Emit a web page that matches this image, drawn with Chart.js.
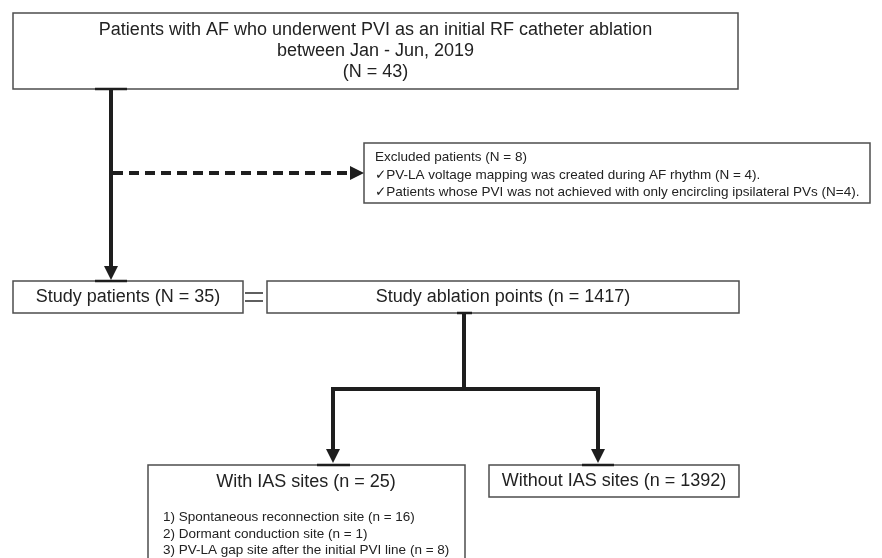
<!DOCTYPE html>
<html>
<head>
<meta charset="utf-8">
<script src="https://cdn.jsdelivr.net/npm/chart.js@4/dist/chart.umd.min.js"></script>
<style>
html,body{margin:0;padding:0;background:#fff;}
#c{display:block;}
</style>
</head>
<body>
<canvas id="c" width="882" height="558"></canvas>
<script>
// ---- data (counts and texts) ----
const totalPatients = 43;
const excludedTotal = 8;
const excludedCounts = [4, 4];
const studyPatients = 35;
const ablationPoints = 1417;
const withIAS = 25;
const withoutIAS = 1392;
const iasCounts = [16, 1, 8];
const periodLabel = "between Jan - Jun, 2019";
const iasLabels = ["Spontaneous reconnection site", "Dormant conduction site", "PV-LA gap site after the initial PVI line"];
const excludedReasons = ["PV-LA voltage mapping was created during AF rhythm", "Patients whose PVI was not achieved with only encircling ipsilateral PVs"];

const topLines = ["Patients with AF who underwent PVI as an initial RF catheter ablation", periodLabel, "(N = " + totalPatients + ")"];
const excludedLines = [
  "Excluded patients (N = " + excludedTotal + ")",
  "\u2713" + excludedReasons[0] + " (N = " + excludedCounts[0] + ").",
  "\u2713" + excludedReasons[1] + " (N=" + excludedCounts[1] + ")."
];
const studyText = "Study patients (N = " + studyPatients + ")";
const ablText = "Study ablation points (n = " + ablationPoints + ")";
const withText = "With IAS sites (n = " + withIAS + ")";
const withoutText = "Without IAS sites (n = " + withoutIAS + ")";
const iasLines = iasLabels.map((l, i) => (i + 1) + ") " + l + " (n = " + iasCounts[i] + ")");

// ---- layout (positions in the hidden scale units) ----
const L = {
  top:     {x0: 13,  y0: 13,  x1: 738, y1: 89},
  excl:    {x0: 364, y0: 143, x1: 870, y1: 203},
  study:   {x0: 13,  y0: 281, x1: 243, y1: 313},
  abl:     {x0: 267, y0: 281, x1: 739, y1: 313},
  withB:   {x0: 148, y0: 465, x1: 465, y1: 575},
  without: {x0: 489, y0: 465, x1: 739, y1: 497}
};

const BIG = '18px "Liberation Sans", Arial, sans-serif';
const SMALL = '13.5px "Liberation Sans", Arial, "DejaVu Sans", sans-serif';

const flowPlugin = {
  id: 'flow',
  beforeDraw(chart) {
    const ctx = chart.ctx;
    ctx.save();
    ctx.fillStyle = '#ffffff';
    ctx.fillRect(0, 0, chart.width, chart.height);
    ctx.restore();
  },
  afterDraw(chart) {
    const ctx = chart.ctx;
    const xs = chart.scales.x, ys = chart.scales.y;
    const X = v => xs.getPixelForValue(v);
    const Y = v => ys.getPixelForValue(v);

    ctx.save();
    // boxes
    ctx.strokeStyle = '#4d4d4d';
    ctx.lineWidth = 1.5;
    Object.values(L).forEach(b => {
      ctx.strokeRect(X(b.x0), Y(b.y0), X(b.x1) - X(b.x0), Y(b.y1) - Y(b.y0));
    });

    // connectors
    const dark = '#1e1e1e';
    ctx.strokeStyle = dark;
    ctx.fillStyle = dark;
    ctx.lineWidth = 4;
    ctx.lineCap = 'butt';
    ctx.lineJoin = 'miter';

    function arrowDown(x, tipY) {
      ctx.beginPath();
      ctx.moveTo(X(x), Y(tipY));
      ctx.lineTo(X(x) - 7, Y(tipY) - 14);
      ctx.lineTo(X(x) + 7, Y(tipY) - 14);
      ctx.closePath();
      ctx.fill();
    }
    function arrowRight(tipX, y) {
      ctx.beginPath();
      ctx.moveTo(X(tipX), Y(y));
      ctx.lineTo(X(tipX) - 14, Y(y) - 7);
      ctx.lineTo(X(tipX) - 14, Y(y) + 7);
      ctx.closePath();
      ctx.fill();
    }

    // main vertical
    ctx.beginPath();
    ctx.moveTo(X(111), Y(89));
    ctx.lineTo(X(111), Y(268));
    ctx.stroke();
    arrowDown(111, 280);

    // dashed to excluded
    ctx.setLineDash([10, 6]);
    ctx.beginPath();
    ctx.moveTo(X(113), Y(173));
    ctx.lineTo(X(352), Y(173));
    ctx.stroke();
    ctx.setLineDash([]);
    arrowRight(364, 173);

    // split
    ctx.beginPath();
    ctx.moveTo(X(464), Y(313));
    ctx.lineTo(X(464), Y(389));
    ctx.stroke();
    ctx.beginPath();
    ctx.moveTo(X(333), Y(451));
    ctx.lineTo(X(333), Y(389));
    ctx.lineTo(X(598), Y(389));
    ctx.lineTo(X(598), Y(451));
    ctx.stroke();
    arrowDown(333, 463);
    arrowDown(598, 463);

    // dark ticks on box edges
    ctx.lineWidth = 2.5;
    [[95, 127, 89], [95, 127, 281], [457, 472, 313], [317, 350, 465], [582, 614, 465]].forEach(t => {
      ctx.beginPath();
      ctx.moveTo(X(t[0]), Y(t[2]));
      ctx.lineTo(X(t[1]), Y(t[2]));
      ctx.stroke();
    });

    // equals sign
    ctx.strokeStyle = '#4d4d4d';
    ctx.lineWidth = 1.8;
    [293, 301].forEach(yy => {
      ctx.beginPath();
      ctx.moveTo(X(245), Y(yy));
      ctx.lineTo(X(263), Y(yy));
      ctx.stroke();
    });

    // texts
    ctx.fillStyle = '#222222';
    ctx.textBaseline = 'middle';
    ctx.font = BIG;
    ctx.textAlign = 'center';
    const topY = [30, 51, 72];
    topLines.forEach((t, i) => ctx.fillText(t, X(375.5), Y(topY[i])));
    ctx.fillText(studyText, X(128), Y(297));
    ctx.fillText(ablText, X(503), Y(297));
    ctx.fillText(withText, X(306), Y(482));
    ctx.fillText(withoutText, X(614), Y(481));

    ctx.font = SMALL;
    ctx.textAlign = 'left';
    const exY = [157, 175, 192];
    excludedLines.forEach((t, i) => ctx.fillText(t, X(375), Y(exY[i])));
    const iasY = [517, 534, 550];
    iasLines.forEach((t, i) => ctx.fillText(t, X(163), Y(iasY[i])));
    ctx.restore();
  }
};

new Chart(document.getElementById('c'), {
  type: 'scatter',
  data: { datasets: [{ data: [], pointRadius: 0 }] },
  options: {
    responsive: false,
    animation: false,
    layout: { padding: 0 },
    plugins: { legend: { display: false }, tooltip: { enabled: false } },
    scales: {
      x: { type: 'linear', min: 0, max: 882, display: false },
      y: { type: 'linear', min: 0, max: 558, reverse: true, display: false }
    }
  },
  plugins: [flowPlugin]
});
</script>
</body>
</html>
